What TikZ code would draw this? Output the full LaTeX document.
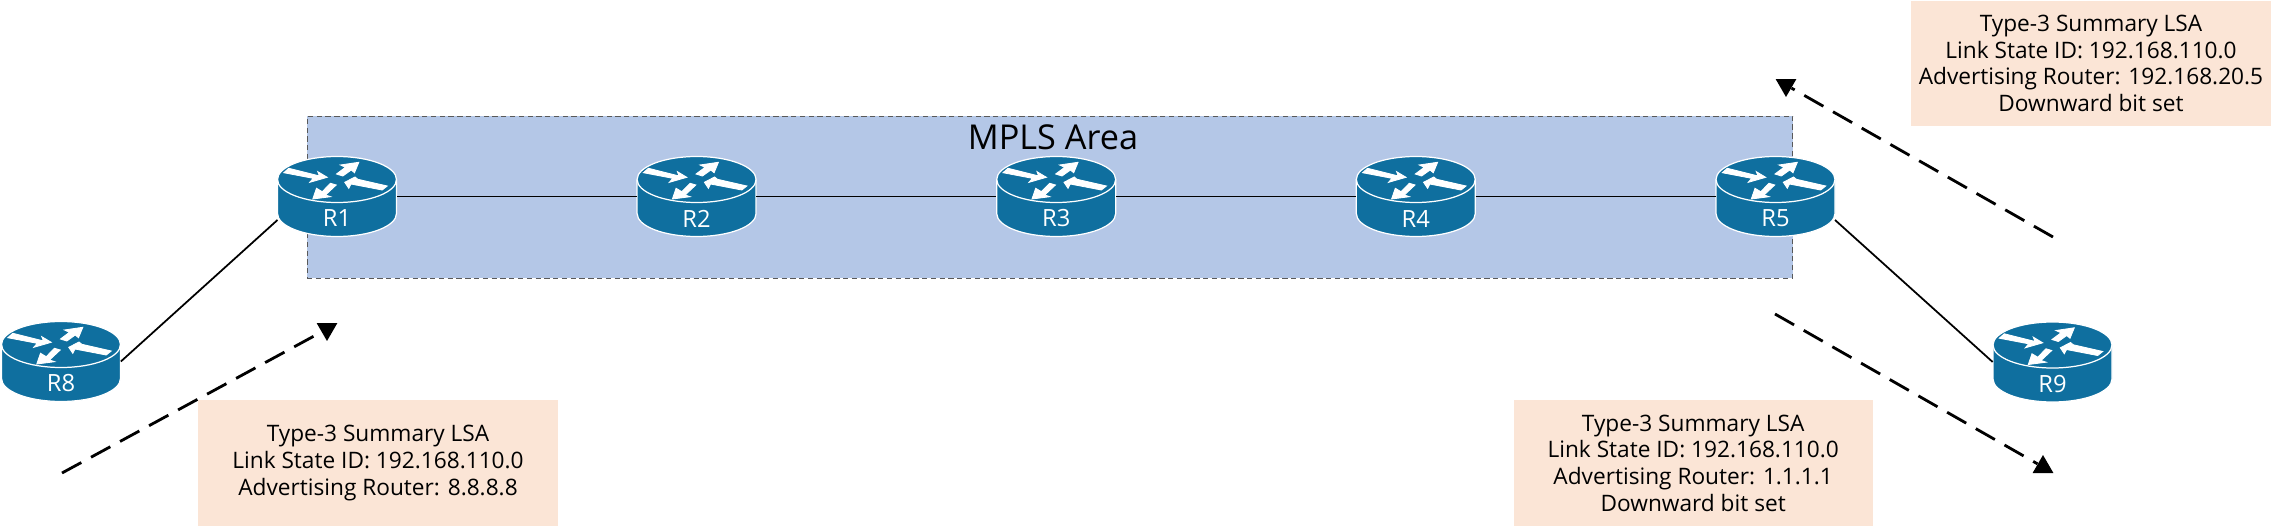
\documentclass[tikz,border=0pt]{standalone}
\usepackage{fontspec}
\setmainfont{Open Sans}
\usetikzlibrary{calc, arrows, shapes}
\definecolor{areablue}{HTML}{B4C7E7}
\definecolor{lsapeach}{HTML}{FBE5D6}
\definecolor{routerblue}{HTML}{0F6F9F}
\tikzstyle{area} = [
    rectangle,
    minimum width = 29.72cm,
    minimum height = 3.24cm,
    inner sep = 0pt,
    fill = areablue,
    draw = black!65,
    densely dashed,
    line width = 0.5pt
]
\tikzstyle{lsa} = [
    rectangle,
    minimum width = 7.19cm,
    minimum height = 2.52cm,
    inner sep = 0pt,
    align = center,
    fill = lsapeach,
    font = \fontsize{12.9}{15.2}\selectfont
]
\tikzstyle{routerbox} = [
    rectangle,
    minimum width = 2.38cm,
    minimum height = 1.62cm,
    inner sep = 0pt
]
\tikzstyle{routername} = [
    inner sep = 0pt,
    text = white,
    font = \fontsize{13.5}{15}\selectfont
]
\tikzstyle{routerarrow} = [fill = white, draw = white, line width = 0.5pt]
\tikzstyle{link} = [line width = 1pt]
\tikzstyle{update} = [line width = 1.6pt, dash pattern = on 12.5pt off 6.3pt]
\tikzstyle{head} = [
    regular polygon,
    regular polygon sides = 3,
    minimum size = 0.48cm,
    inner sep = 0pt,
    fill = black
]
% #1 name, #2 x, #3 y, #4 label
\newcommand{\router}[4]{
    \begin{scope}[shift={(#2,#3)}]
        \filldraw[fill=routerblue, draw=white, line width=0.7pt]
            (-59.5,17) -- (-59.5,-17) arc [start angle=180, end angle=360, x radius=59.5, y radius=23]
            -- (59.5,17) arc [start angle=0, end angle=180, x radius=59.5, y radius=23] -- cycle;
        \draw[white, line width=0.7pt] (-59.5,17) arc [start angle=180, end angle=360, x radius=59.5, y radius=23];
        \filldraw[routerarrow] (-53.2,23.8) -- (-48.2,28.2) -- (-17.5,20.5) -- (-19.2,24.8) -- (-9.8,19.2) -- (-27.2,14.2) -- (-23.8,18.2) -- cycle;
        \filldraw[routerarrow] (21.8,34.2) -- (3.5,31.5) -- (8.5,29.2) -- (-0.5,22.5) -- (5.8,20.5) -- (14.2,26.5) -- (17.5,23.8) -- cycle;
        \filldraw[routerarrow] (7.8,14.2) -- (18,19.5) -- (20.8,17.2) -- (50.2,10.5) -- (45.2,6.5) -- (14,12.5) -- (11.8,8.2) -- cycle;
        \filldraw[routerarrow] (-24.2,-2.5) -- (-20.5,8.2) -- (-14.8,4.8) -- (-6.5,13.2) -- (-0.8,11.5) -- (-11.5,1.5) -- (-6.5,-0.2) -- cycle;
        \node (#1) [routerbox] at (0,0) {};
        \node (#1name) [routername] at (0,-22) {#4};
        \coordinate (#1sw) at (-59.5,-23.5);
        \coordinate (#1se) at (59.5,-23.5);
    \end{scope}
}

\begin{document}
\begin{tikzpicture}[x=0.02cm, y=0.02cm]
        \useasboundingbox (0,0) rectangle (2273,-527);

        %% Area
        \node (mpls) [area] at (1050,-197) {};
        \node (mplsname) [inner sep=0pt, font=\fontsize{19.5}{24}\selectfont] at (1053,-137) {MPLS Area};

        %% Routers
        \router{r8}{61}{-361.5}{R8}
        \router{r1}{337}{-196.5}{R1}
        \router{r2}{696.6}{-196.5}{R2}
        \router{r3}{1056.2}{-196.5}{R3}
        \router{r4}{1415.8}{-196.5}{R4}
        \router{r5}{1775.5}{-196.5}{R5}
        \router{r9}{2052.5}{-362}{R9}

        \draw[link] (r1) -- (r2);
        \draw[link] (r2) -- (r3);
        \draw[link] (r3) -- (r4);
        \draw[link] (r4) -- (r5);
        \draw[link] (r8.east) -- (r1sw);
        \draw[link] (r5se) -- (r9.west);

        %% LSA boxes
        \node (lsaleft) [lsa] at (378,-463) {Type-3 Summary LSA\\Link State ID: 192.168.110.0\\Advertising Router: 8.8.8.8};
        \node (lsamid) [lsa] at (1693.2,-463) {Type-3 Summary LSA\\Link State ID: 192.168.110.0\\Advertising Router: 1.1.1.1\\Downward bit set};
        \node (lsaright) [lsa] at (2091,-63.5) {Type-3 Summary LSA\\Link State ID: 192.168.110.0\\Advertising Router: 192.168.20.5\\Downward bit set};

        %% Updates
        \coordinate (startleft) at (62,-473);
        \coordinate (startmid) at (1775,-314);
        \coordinate (startright) at (2053,-237);
        \node (headleft) [head, shape border rotate=180] at (327,-329) {};
        \node (headmid) [head] at (2043,-467) {};
        \node (headright) [head, shape border rotate=180] at (1786,-85) {};

        \draw[update] (startleft) -- (headleft);
        \draw[update] (startmid) -- (headmid);
        \draw[update] (startright) -- (headright);

    \end{tikzpicture}
\end{document}
